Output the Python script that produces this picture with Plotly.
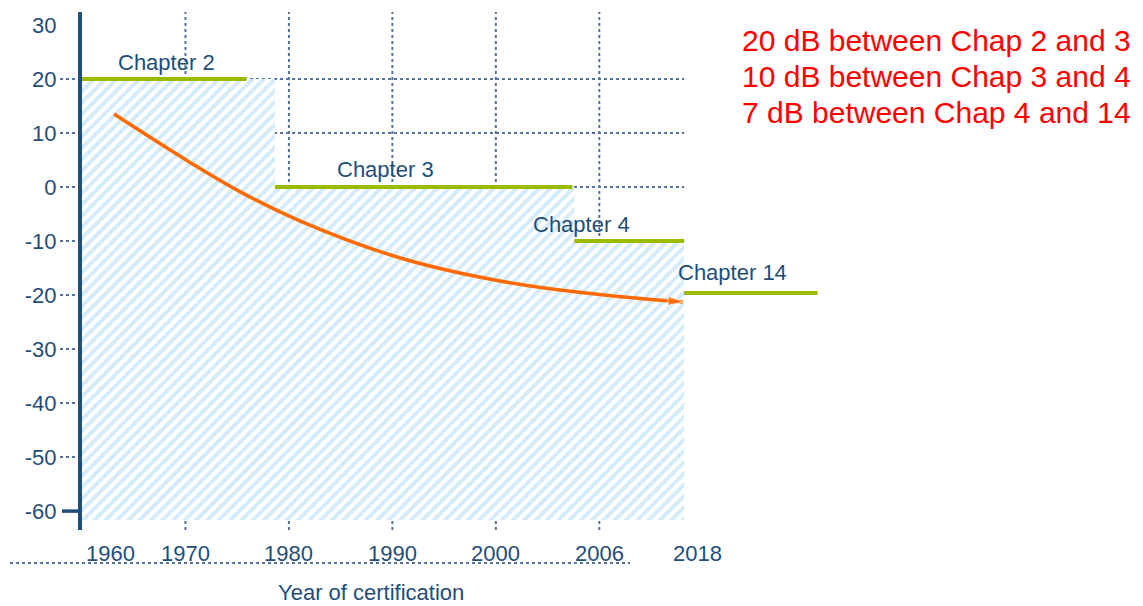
import plotly.graph_objects as go

text_color = '#1f4e79'
grid_color = '#56739b'
green = '#9bbb00'
orange = '#ff6a00'
hatch = '#acd8f3'

# x axis is in "tick steps": one unit per labelled tick gap
tick_labels = ['1960', '1970', '1980', '1990', '2000', '2006', '2018']
tick_pos = [0, 1, 2, 3, 4, 5, 5.82]

y_ticks = [30, 20, 10, 0, -10, -20, -30, -40, -50, -60]

# noise limit steps (hatched area)
step_x = [0, 1.865, 4.76, 5.82]
step_y = [20, 0, -10]
step_floor = -61.7

chapters = ['Chapter 2', 'Chapter 3', 'Chapter 4', 'Chapter 14']
chap_level = [20, 0, -10, -19.6]
chap_start = [0, 1.865, 4.76, 5.82]
chap_end = [1.59, 4.74, 5.82, 7.11]

# fleet trend curve
trend_x = [0.31, 1.04, 1.53, 2.11, 3.07, 4.04, 5.0, 5.81]
trend_y = [13.5, 4.6, -0.9, -6.3, -13.1, -17.4, -19.9, -21.3]

notes = ['20 dB between Chap 2 and 3',
         '10 dB between Chap 3 and 4',
         '7 dB between Chap 4 and 14']

fig = go.Figure()

# hatched step area
fx, fy = [step_x[0]], [step_floor]
for i, lvl in enumerate(step_y):
    fx += [step_x[i], step_x[i + 1]]
    fy += [lvl, lvl]
fx.append(step_x[-1])
fy.append(step_floor)
fig.add_trace(go.Scatter(x=fx, y=fy, mode='lines', line=dict(width=0),
                         fill='toself', fillcolor='white',
                         fillpattern=dict(shape='/', fgcolor=hatch, bgcolor='white',
                                          size=8, solidity=0.5),
                         hoverinfo='skip', showlegend=False))

# chapter limit lines
for name, lvl, x0, x1 in zip(chapters, chap_level, chap_start, chap_end):
    fig.add_trace(go.Scatter(x=[x0, x1], y=[lvl, lvl], mode='lines', name=name,
                             line=dict(color=green, width=4), showlegend=False))

# trend curve with arrow head
fig.add_trace(go.Scatter(x=trend_x, y=trend_y, mode='lines+markers',
                         line=dict(color=orange, width=3.5, shape='spline'),
                         marker=dict(symbol='arrow', angleref='previous', color=orange,
                                     size=[0] * (len(trend_x) - 1) + [16]),
                         showlegend=False))

# grid lines drawn as dotted shapes so they stop at 2018
dot = dict(color=grid_color, width=2, dash='dot')
for v in y_ticks[1:-1]:
    fig.add_shape(type='line', xref='x', yref='y', x0=0, x1=tick_pos[-1], y0=v, y1=v,
                  line=dot, layer='below')
    fig.add_shape(type='line', xref='paper', xsizemode='pixel', xanchor=0, x0=-22, x1=0,
                  yref='y', y0=v, y1=v, line=dot, layer='below')
fig.add_shape(type='line', xref='paper', xsizemode='pixel', xanchor=0, x0=-20, x1=0,
              yref='y', y0=y_ticks[-1], y1=y_ticks[-1],
              line=dict(color=text_color, width=3.5))
for p in tick_pos[1:-1]:
    fig.add_shape(type='line', xref='x', yref='paper', x0=p, x1=p, y0=0, y1=1,
                  line=dot, layer='below')

# dotted baseline under the year labels
fig.add_shape(type='line', xref='paper', xsizemode='pixel', xanchor=0, x0=-72, x1=548,
              yref='paper', ysizemode='pixel', yanchor=0, y0=-33, y1=-33, line=dot)

# year labels
shifts = {0: 28, len(tick_labels) - 1: 13}
for i, (lab, p) in enumerate(zip(tick_labels, tick_pos)):
    fig.add_annotation(x=p, y=0, xref='x', yref='paper', text=lab, showarrow=False,
                       xshift=shifts.get(i, 0), yshift=-23, yanchor='middle',
                       font=dict(size=22, color=text_color))

# chapter labels
label_xy = [(0.82, 23.1), (2.93, 3.15), (4.83, -6.9), (6.29, -15.9)]
for name, (lx, ly) in zip(chapters, label_xy):
    fig.add_annotation(x=lx, y=ly, text=name, showarrow=False,
                       font=dict(size=22, color=text_color))

fig.add_annotation(x=0, y=0, xref='paper', yref='paper', text='Year of certification',
                   showarrow=False, xshift=194, yshift=-62, yanchor='middle',
                   font=dict(size=22, color=text_color))

for i, t in enumerate(notes):
    fig.add_annotation(x=1, y=1, xref='paper', yref='paper', text=t, showarrow=False,
                       xanchor='right', yanchor='middle', xshift=303, yshift=-28 - 36 * i,
                       font=dict(size=30, color='red'))

fig.update_layout(
    width=1143, height=606,
    margin=dict(l=82, r=313, t=12, b=76),
    paper_bgcolor='white', plot_bgcolor='white',
    font=dict(family='Liberation Sans, Arial, sans-serif', color=text_color),
    xaxis=dict(range=[0, 7.23], showgrid=False, zeroline=False, showticklabels=False,
               showline=False),
    yaxis=dict(range=[-63.5, 32.4], tickvals=y_ticks, ticktext=[str(v) for v in y_ticks],
               showgrid=False, zeroline=False,
               showline=True, linewidth=4, linecolor=text_color,
               ticks='outside', ticklen=17, tickcolor='rgba(0,0,0,0)',
               tickfont=dict(size=22, color=text_color)),
)

# drop the default 8px page margin so the figure fills the window
fig.write_html("out.html", config={'displayModeBar': False},
               post_script="document.body.style.margin='0';document.body.style.overflow='hidden';")
